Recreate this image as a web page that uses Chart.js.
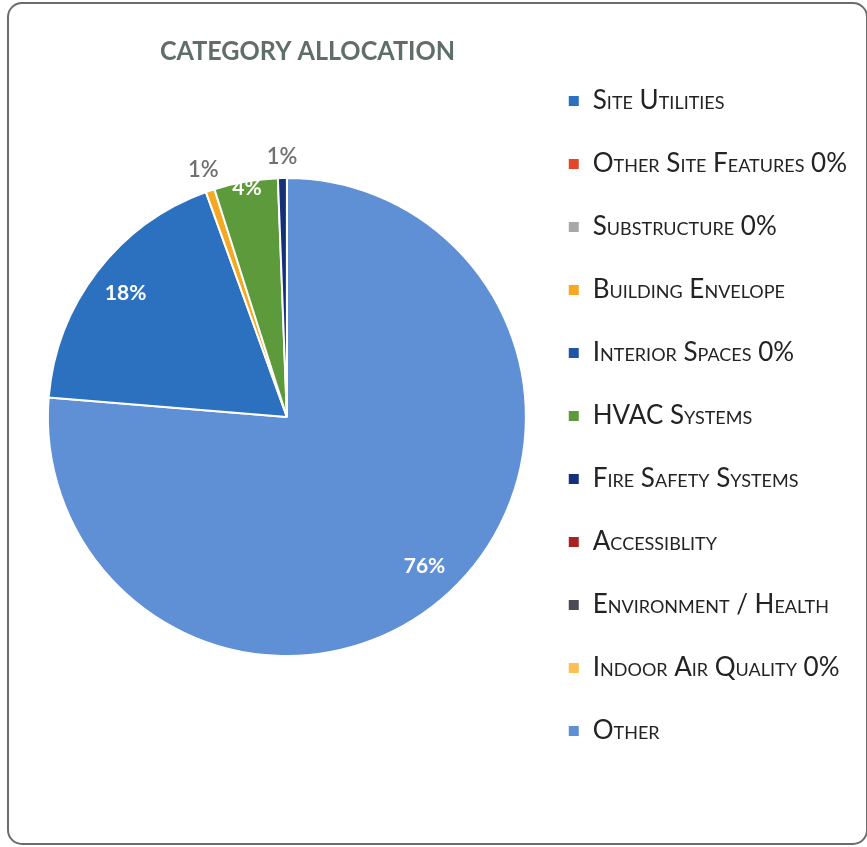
<!DOCTYPE html>
<html>
<head>
<meta charset="utf-8">
<title>Category Allocation</title>
<script src="https://cdn.jsdelivr.net/npm/chart.js@4.4.1/dist/chart.umd.min.js"></script>
<style>
  html, body { margin: 0; padding: 0; background: #ffffff; }
  #wrap { position: relative; width: 867px; height: 847px; overflow: hidden; }
  #frame {
    position: absolute; left: 7px; top: 2px; width: 861px; height: 843px;
    border: 2px solid #6c6c6c; border-radius: 15px; box-sizing: border-box;
  }
  #chart { position: absolute; left: 0; top: 0; }
</style>
</head>
<body>
<div id="wrap">
  <div id="frame"></div>
  <canvas id="chart" width="867" height="847"></canvas>
</div>
<script>
// Slices, in drawing order (clockwise from 12 o'clock)
const categories = [
  'Other',
  'Site Utilities',
  'Other Site Features 0%',
  'Substructure 0%',
  'Building Envelope',
  'Interior Spaces 0%',
  'HVAC Systems',
  'Fire Safety Systems',
  'Accessiblity',
  'Environment / Health',
  'Indoor Air Quality 0%'
];
// Share of the total, in percent
const shares = [76.3, 18.2, 0, 0, 0.6, 0, 4.3, 0.6, 0, 0, 0];
const sliceColors = [
  '#5f8fd4', '#2c70c0', '#e2472c', '#a8a8a8', '#f7a823', '#1f56a3',
  '#5d9a3b', '#14307a', '#a82222', '#4a4c55', '#fdbf4f'
];
// Order of the entries in the legend
const legendOrder = [
  'Site Utilities',
  'Other Site Features 0%',
  'Substructure 0%',
  'Building Envelope',
  'Interior Spaces 0%',
  'HVAC Systems',
  'Fire Safety Systems',
  'Accessiblity',
  'Environment / Health',
  'Indoor Air Quality 0%',
  'Other'
];
const chartTitle = 'CATEGORY ALLOCATION';

// Chart title, drawn at a fixed spot above the pie
const titlePlugin = {
  id: 'titleText',
  afterDraw(chart) {
    const ctx = chart.ctx;
    ctx.save();
    ctx.font = 'bold 26px Lato';
    ctx.fillStyle = '#5f6e69';
    ctx.textAlign = 'left';
    ctx.textBaseline = 'alphabetic';
    ctx.fillText(chartTitle, 160, 60, 295);
    ctx.restore();
  }
};

// Percentage labels on (or just outside) each slice
const sliceLabels = {
  id: 'sliceLabels',
  afterDatasetsDraw(chart) {
    const ctx = chart.ctx;
    const meta = chart.getDatasetMeta(0);
    const total = shares.reduce((a, b) => a + b, 0);
    ctx.save();
    ctx.textAlign = 'center';
    ctx.textBaseline = 'middle';
    meta.data.forEach((arc, i) => {
      const v = shares[i];
      if (!v) return;
      const pct = Math.round(v / total * 100);
      const p = arc.getProps(['x', 'y', 'startAngle', 'endAngle', 'outerRadius'], true);
      const mid = (p.startAngle + p.endAngle) / 2;
      let f, color;
      if (pct < 2) { f = 1.09; color = '#707070'; ctx.font = '600 22px Lato'; }
      else if (pct < 10) { f = 0.97; color = '#ffffff'; ctx.font = 'bold 21px Lato'; }
      else { f = 0.85; color = '#ffffff'; ctx.font = 'bold 21px Lato'; }
      ctx.fillStyle = color;
      ctx.fillText(pct + '%', p.x + Math.cos(mid) * p.outerRadius * f, p.y + Math.sin(mid) * p.outerRadius * f);
    });
    ctx.restore();
  }
};

new Chart(document.getElementById('chart'), {
  type: 'pie',
  data: {
    labels: categories,
    datasets: [{
      data: shares,
      backgroundColor: sliceColors,
      borderColor: '#ffffff',
      borderWidth: 2,
      radius: 239
    }]
  },
  options: {
    responsive: false,
    animation: false,
    layout: { padding: { top: 41, bottom: 54, left: 43, right: 10 } },
    plugins: {
      tooltip: { enabled: false },
      legend: {
        position: 'right',
        align: 'start',
        title: { display: true, text: ' ', font: { size: 10, lineHeight: 1 }, padding: 0 },
        labels: {
          boxWidth: 12,
          boxHeight: 12,
          padding: 37,
          color: '#232323',
          font: { family: 'Lato', size: 26, weight: 'small-caps' },
          sort: (a, b) => legendOrder.indexOf(a.text) - legendOrder.indexOf(b.text)
        }
      }
    }
  },
  plugins: [sliceLabels, titlePlugin]
});
</script>
</body>
</html>
